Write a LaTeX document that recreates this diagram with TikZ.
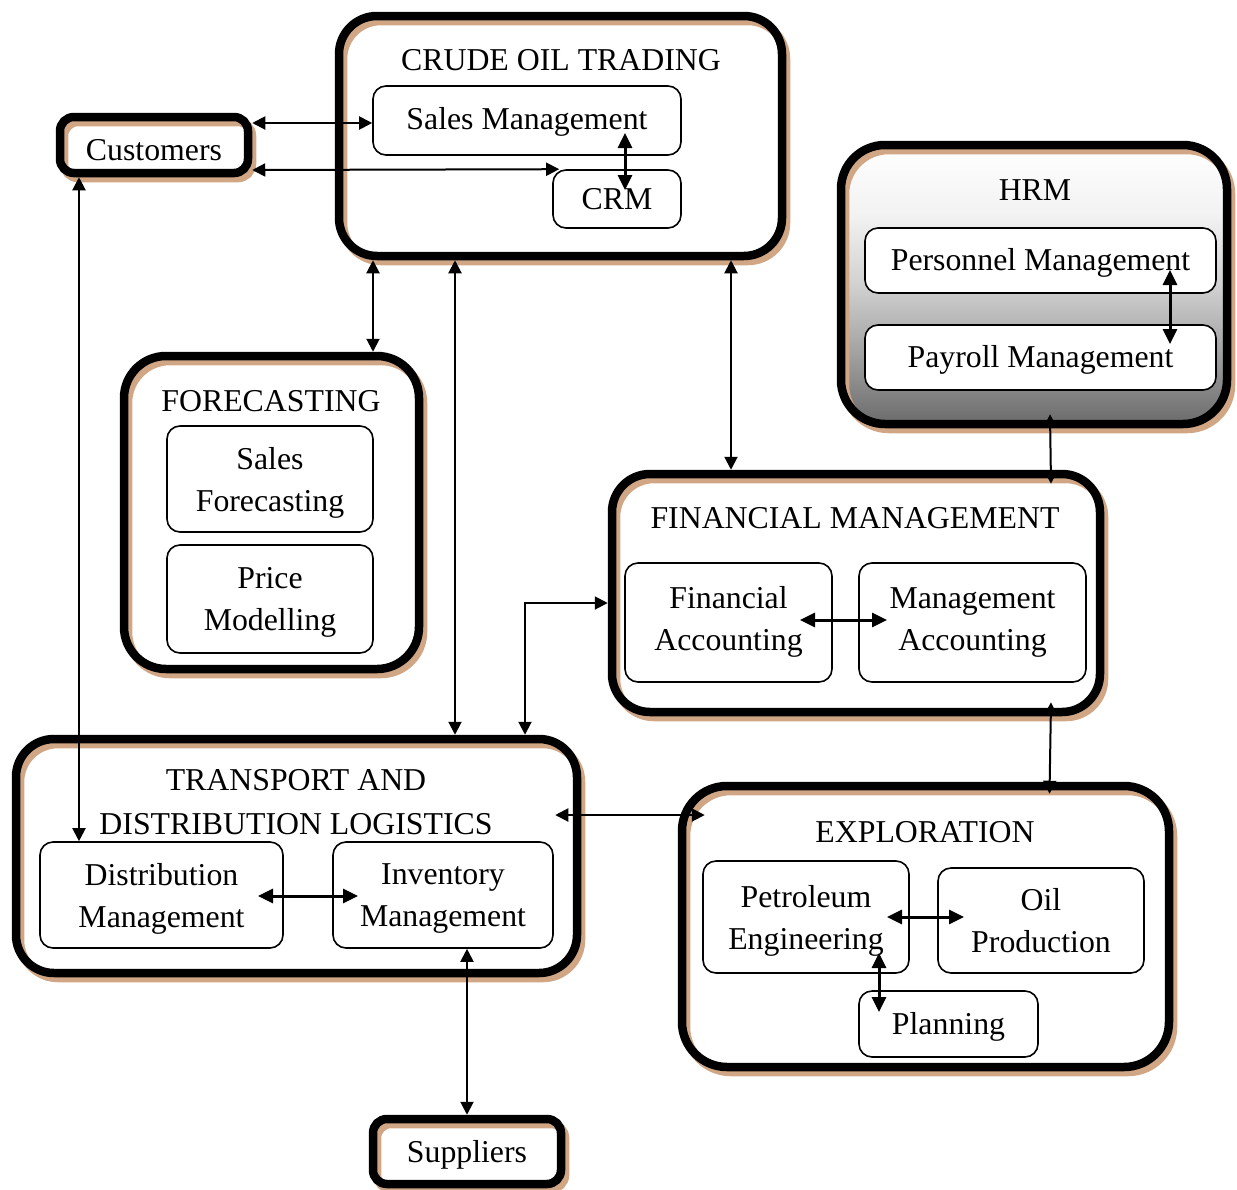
\documentclass[tikz,border=0pt]{standalone}
\usepackage{fontspec}
\setmainfont{Liberation Serif}
\usetikzlibrary{arrows.meta}
\definecolor{shtan}{RGB}{208,166,133}
\definecolor{g42}{gray}{0.42}
\definecolor{g63}{gray}{0.63}
\definecolor{g82}{gray}{0.82}
\definecolor{g95}{gray}{0.95}
% grey-to-white fill of the HRM block
\pgfdeclareverticalshading{hrmgrad}{100bp}{color(0bp)=(g42); color(25bp)=(g42); color(37.5bp)=(g63); color(50bp)=(g82); color(62.5bp)=(g95); color(75bp)=(white); color(100bp)=(white)}
\begin{document}
\begin{tikzpicture}[x=1pt, y=-1pt,
  font=\fontsize{31.8pt}{42pt}\selectfont,
  cont/.style={draw=black, line width=8.5pt, rounded corners=#1, inner sep=0pt,
    preaction={draw=shtan, line width=8.5pt, transform canvas={shift={(4pt,-5pt)}}}},
  inbox/.style={draw=black, fill=white, line width=1.6pt, rounded corners=13pt,
    inner sep=0pt, align=center},
  ttl/.style={inner sep=0pt, align=center},
  arr/.style={{Triangle[length=13pt,width=13pt]}-{Triangle[length=13pt,width=13pt]}, line width=2pt},
  arrin/.style={{Triangle[length=15pt,width=14pt]}-{Triangle[length=15pt,width=14pt]}, line width=3pt},
]
\useasboundingbox (0,0) rectangle (1237,1189);

% ---- outer blocks ----
\node[cont=14pt, minimum width=188pt, minimum height=56pt] (cust) at (154,145) {};
\node[cont=38pt, minimum width=443pt, minimum height=240pt] (cot) at (560.5,136) {};
\node[preaction={shade, shading=hrmgrad}, cont=44pt, minimum width=386pt, minimum height=279pt] (hrm) at (1034,284.5) {};
\node[cont=42pt, minimum width=295pt, minimum height=313pt] (fore) at (271.5,512.5) {};
\node[cont=38pt, minimum width=488pt, minimum height=238pt] (fm) at (856,593) {};
\node[cont=38pt, minimum width=561pt, minimum height=234pt] (tdl) at (296.5,856) {};
\node[cont=45pt, minimum width=487pt, minimum height=281pt] (expl) at (925.5,926.5) {};
\node[cont=14pt, minimum width=188pt, minimum height=65pt] (sup) at (467,1151.5) {};

% ---- block titles ----
\node[ttl] (cust-t) at (154,150) {Customers};
\node[ttl] (sup-t) at (467,1155) {Suppliers};
\node[ttl] (cot-t) at (561,60) {CRUDE OIL TRADING};
\node[ttl] (hrm-t) at (1035,190) {HRM};
\node[ttl] (fore-t) at (271,401) {FORECASTING};
\node[ttl] (fm-t) at (855,518) {FINANCIAL MANAGEMENT};
\node[ttl, font=\fontsize{31.8pt}{44pt}\selectfont] (tdl-t) at (296,802) {TRANSPORT AND\\DISTRIBUTION LOGISTICS};
\node[ttl] (expl-t) at (925,832) {EXPLORATION};

% ---- inner units ----
\node[inbox, text depth=4pt, minimum width=308pt, minimum height=69pt] (sales) at (527,120.5) {Sales Management};
\node[inbox, text depth=-4pt, minimum width=128pt, minimum height=58pt] (crm) at (617,199) {CRM};
\node[inbox, text depth=3pt, minimum width=351pt, minimum height=65pt] (pers) at (1040.5,260.5) {Personnel Management};
\node[inbox, text depth=3pt, minimum width=351pt, minimum height=65pt] (pay) at (1040.5,357.5) {Payroll Management};
\node[inbox, text depth=-3pt, minimum width=206pt, minimum height=106pt] (sfore) at (270,479) {Sales\\Forecasting};
\node[inbox, text depth=-2pt, minimum width=206pt, minimum height=108pt] (price) at (270,599) {Price\\Modelling};
\node[inbox, text depth=9pt, minimum width=207pt, minimum height=119pt] (facc) at (728.5,622.5) {Financial\\Accounting};
\node[inbox, minimum width=227pt, minimum height=119pt] (macc) at (972.5,622.5) {Management\\Accounting};
\node[inbox, text depth=-5pt, minimum width=243pt, minimum height=106pt] (dist) at (161.5,895) {Distribution\\Management};
\node[inbox, text depth=-5pt, minimum width=220pt, minimum height=106pt] (inv) at (443,895) {Inventory\\Management};
\node[inbox, text depth=-1pt, minimum width=206pt, minimum height=112pt] (peng) at (806,917) {Petroleum\\Engineering};
\node[inbox, text depth=-5pt, minimum width=206pt, minimum height=105pt] (oilp) at (1041,920.5) {Oil\\Production};
\node[inbox, text depth=1pt, minimum width=179pt, minimum height=66pt] (plan) at (948.5,1024) {Planning};

% ---- links between blocks ----
\draw[arr] (cust.east |- 0,123) -- (sales.west |- 0,123);
\draw[arr] (cust.east |- 0,170) -- ([xshift=7pt]crm.north west);
\draw[arr] (79,0 |- cust.south) -- (79,0 |- dist.north);
\draw[arr] (373,0 |- cot.south) -- (373,0 |- fore.north);
\draw[arr] (455,0 |- cot.south) -- (455,0 |- tdl.north);
\draw[arr] (731,0 |- cot.south) -- (731,0 |- fm.north);
\draw[arr] ([xshift=16pt,yshift=14pt]hrm.south) -- ([xshift=195pt,yshift=-14pt]fm.north);
\draw[arr] (fm.west |- 0,603) -| (525,0 |- tdl.north);
\draw[arr] ([xshift=-26pt]tdl.east |- 0,815) -- ([xshift=27pt]expl.west |- 0,815);
\draw[arr] ([xshift=195pt,yshift=14pt]fm.south) -- ([xshift=124pt,yshift=-12pt]expl.north);
\draw[arr] (467,0 |- inv.south) -- (467,0 |- sup.north);

% ---- links inside blocks ----
\draw[arrin] ([xshift=98pt,yshift=-12.5pt]sales.center) -- ([xshift=8pt,yshift=9pt]crm.center);
\draw[arrin] ([xshift=129.5pt,yshift=-9.5pt]pers.center) -- ([xshift=129.5pt,yshift=13.5pt]pay.center);
\draw[arrin] ([xshift=71.5pt,yshift=2.5pt]facc.center) -- ([xshift=-85.5pt,yshift=2.5pt]macc.center);
\draw[arrin] ([xshift=96.5pt,yshift=-1pt]dist.center) -- ([xshift=-85pt,yshift=-1pt]inv.center);
\draw[arrin] ([xshift=81pt]peng.center) -- ([xshift=-77pt,yshift=3.5pt]oilp.center);
\draw[arrin] ([xshift=73pt,yshift=-36pt]peng.center) -- ([xshift=-69.5pt,yshift=12pt]plan.center);
\end{tikzpicture}
\end{document}
